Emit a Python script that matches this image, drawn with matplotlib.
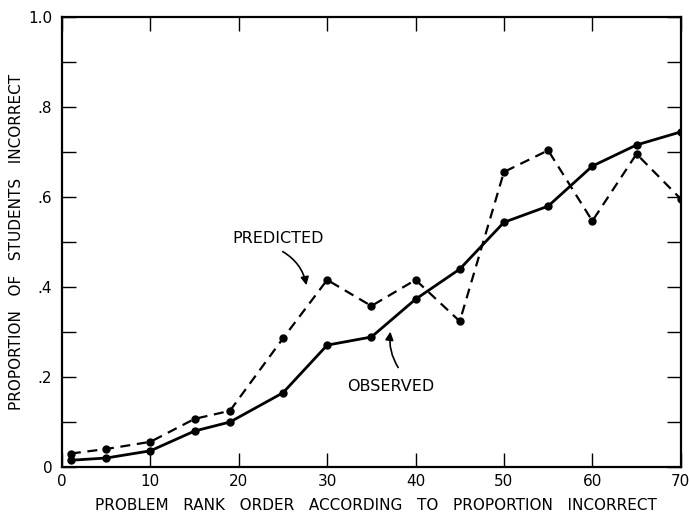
import numpy as np
import matplotlib.pyplot as plt
from matplotlib.ticker import MultipleLocator, FixedLocator

# problem rank order (x) and proportions
rank = [1, 5, 10, 15, 19, 25, 30, 35, 40, 45, 50, 55, 60, 65, 70]
observed = [0.015, 0.02, 0.036, 0.08, 0.10, 0.165, 0.271, 0.289, 0.373, 0.44,
            0.544, 0.58, 0.669, 0.716, 0.745]
predicted = [0.03, 0.04, 0.056, 0.107, 0.125, 0.286, 0.416, 0.358, 0.416, 0.324,
             0.656, 0.704, 0.547, 0.696, 0.596]

x_ticks = [0, 10, 20, 30, 40, 50, 60, 70]
y_ticks = [0, 0.2, 0.4, 0.6, 0.8, 1.0]
y_labels = ["0", ".2", ".4", ".6", ".8", "1.0"]

plt.rcParams['font.family'] = ['DejaVu Sans']

fig = plt.figure(figsize=(6.89, 5.17), dpi=100)
ax = fig.add_axes([0.09, 0.0967, 0.898, 0.870])

ax.plot(rank, predicted, color='black', lw=1.6, ls=(0, (4.5, 3)),
        marker='o', ms=5, mfc='black', mec='black')
ax.plot(rank, observed, color='black', lw=2.0, ls='-',
        marker='o', ms=5, mfc='black', mec='black')

ax.set_xlim(0, 70)
ax.set_ylim(0, 1.0)

ax.xaxis.set_major_locator(FixedLocator(x_ticks))
ax.set_xticklabels([str(t) for t in x_ticks])
ax.yaxis.set_major_locator(FixedLocator(y_ticks))
ax.set_yticklabels(y_labels)
ax.yaxis.set_minor_locator(MultipleLocator(0.1))

ax.tick_params(axis='both', which='both', direction='in', length=10, width=1.0,
               top=True, right=True, labelsize=11)
ax.tick_params(axis='x', pad=5)
ax.tick_params(axis='y', pad=7)
for s in ax.spines.values():
    s.set_linewidth(1.6)

ax.set_xlabel("PROBLEM   RANK   ORDER   ACCORDING   TO   PROPORTION   INCORRECT",
              fontsize=11, va='top')
ax.xaxis.set_label_coords(0.507, -0.068)
ax.set_ylabel("PROPORTION   OF   STUDENTS   INCORRECT", fontsize=11)
ax.yaxis.set_label_coords(-0.062, 0.5)

ax.text(24.4, 0.509, "PREDICTED", ha='center', va='center', fontsize=11.5)
ax.annotate("", xy=(27.7, 0.398), xytext=(24.7, 0.482),
            arrowprops=dict(arrowstyle='-|>', color='black', lw=1.2,
                            connectionstyle="arc3,rad=-0.25", mutation_scale=12))
ax.text(37.2, 0.178, "OBSERVED", ha='center', va='center', fontsize=11.5)
ax.annotate("", xy=(37.2, 0.307), xytext=(38.2, 0.216),
            arrowprops=dict(arrowstyle='-|>', color='black', lw=1.2,
                            connectionstyle="arc3,rad=-0.2", mutation_scale=12))

fig.savefig("out.png", dpi=100)
